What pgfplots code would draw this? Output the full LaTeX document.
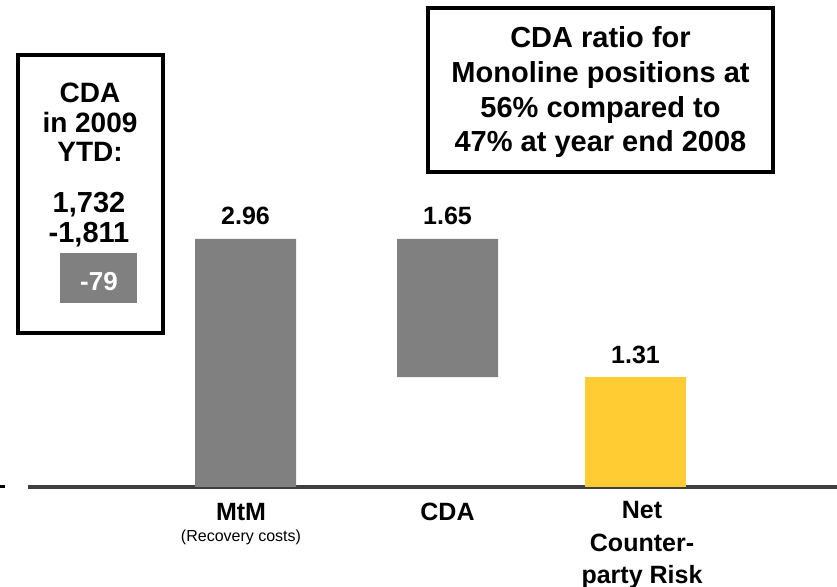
\documentclass[border=0pt]{standalone}
\usepackage{fontspec}
\setmainfont{Liberation Sans}
\usepackage{pgfplots}
\pgfplotsset{compat=1.18}
\definecolor{barGray}{HTML}{808080}
\definecolor{barYellow}{HTML}{FFCC33}
\definecolor{baseGray}{HTML}{3F3F3F}
\tikzset{vlab/.style={font=\fontsize{12.5}{15}\selectfont\bfseries, anchor=base, inner sep=0pt, yshift=7pt}}
\begin{document}
\begin{tikzpicture}
\begin{axis}[
  at={(0,0)}, anchor=south west,
  scale only axis, width=418.5pt, height=293.5pt,
  xmin=0, xmax=837, ymin=-1.1936, ymax=5.8128,
  axis lines=none, clip=false,
  ybar stacked, bar width=101,
]
% invisible base of the waterfall
\addplot[draw=none, fill=none] coordinates {(245.5,0) (447.5,1.31) (635.5,0)};
% MtM and CDA (grey)
\addplot[draw=none, fill=barGray] coordinates {(245.5,2.96) (447.5,1.65) (635.5,0)};
% Net counterparty risk (yellow)
\addplot[draw=none, fill=barYellow] coordinates {(245.5,0) (447.5,0) (635.5,1.31)};
\draw[baseGray, line width=1.6pt] (axis cs:28,0) -- (axis cs:837,0);
\node[vlab] at (axis cs:245.5,2.96) {2.96};
\node[vlab] at (axis cs:447.5,2.96) {1.65};
\node[vlab] at (axis cs:635.5,1.31) {1.31};
\end{axis}
\begin{scope}[x=0.5pt, y=-0.5pt, yshift=293.5pt]
  \draw[line width=1.5pt] (0,487) -- (5,487);
  % left box
  \draw[line width=2pt] (18,55) rectangle (163,333);
  \begin{scope}[every node/.style={anchor=base, inner sep=0pt, font=\fontsize{14}{16}\selectfont\bfseries}]
    \node at (90,103) {CDA};
    \node at (90,133) {in 2009};
    \node at (90,162) {YTD:};
    \node[font=\fontsize{14.5}{16}\selectfont\bfseries] at (89,213) {1,732};
    \node[font=\fontsize{14.5}{16}\selectfont\bfseries] at (89,243) {-1,811};
  \end{scope}
  \fill[barGray] (60,253) rectangle (137,303);
  \node[anchor=base, inner sep=0pt, white, font=\fontsize{13}{15}\selectfont\bfseries] at (99,291) {-79};
  % top right box
  \draw[line width=1.6pt] (428,8) rectangle (773,172);
  \begin{scope}[every node/.style={anchor=base, inner sep=0pt, font=\fontsize{14.5}{17}\selectfont\bfseries}]
    \node at (600.5,48) {CDA ratio for};
    \node at (600.5,83) {Monoline positions at};
    \node at (600.5,118) {56\% compared to};
    \node at (600.5,152) {47\% at year end 2008};
  \end{scope}
  % category labels
  \begin{scope}[every node/.style={anchor=base, inner sep=0pt, font=\fontsize{12.5}{15}\selectfont\bfseries}]
    \node at (241,521) {MtM};
    \node at (447.5,521) {CDA};
    \node at (642,519) {Net};
    \node at (642,552) {Counter-};
    \node at (642,584) {party Risk};
  \end{scope}
  \node[anchor=base, inner sep=0pt, font=\fontsize{8}{10}\selectfont] at (241,542) {(Recovery costs)};
\end{scope}
\pgfresetboundingbox
\path (0,0) rectangle (418.5pt,293.5pt);
\end{tikzpicture}
\end{document}
